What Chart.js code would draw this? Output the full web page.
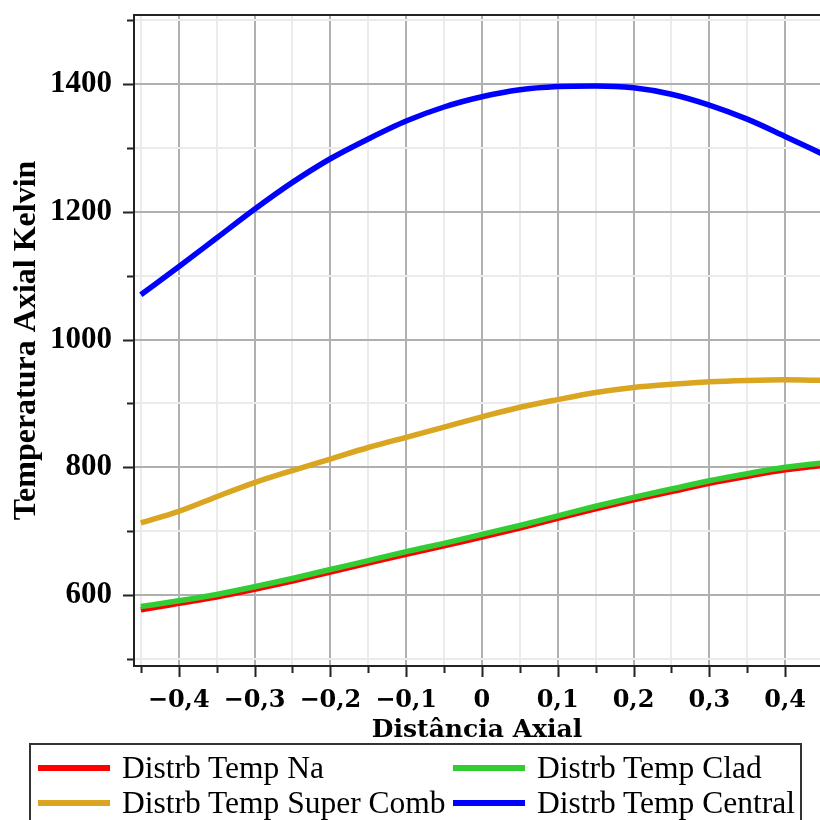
<!DOCTYPE html>
<html lang="pt">
<head>
<meta charset="utf-8">
<title>Distribuição de Temperatura Axial</title>
<script src="https://cdn.jsdelivr.net/npm/chart.js@4.4.1/dist/chart.umd.min.js"></script>
<style>
  html, body { margin:0; padding:0; background:#fff; }
  #wrap { position:relative; width:820px; height:820px; overflow:hidden; }
  #chart { position:absolute; left:0; top:0; }
  #legenda { position:absolute; left:29px; top:743px; width:769px; height:100px;
             border:2px solid #333; font-family:"Liberation Serif", serif; font-size:31.5px; color:#000; }
  .item { position:absolute; height:30px; line-height:30px; white-space:nowrap; }
  .item .amostra { position:absolute; left:0; top:12px; width:72px; height:6px; }
  .item span { position:absolute; left:84px; top:0; }
</style>
</head>
<body>
<div id="wrap">
  <canvas id="chart" width="820" height="820"></canvas>
  <div id="legenda"></div>
</div>
<script>
// ======= Dados =======
const DISTANCIA = [-0.45, -0.40, -0.35, -0.30, -0.25, -0.20, -0.15, -0.10, -0.05, 0,
                   0.05, 0.10, 0.15, 0.20, 0.25, 0.30, 0.35, 0.40, 0.45];

const TEMP_NA         = [577, 587, 597, 609, 622, 636, 650, 664, 677, 691, 705, 720, 735, 749, 762, 775, 786, 796, 803];
const TEMP_CLAD       = [582, 591, 601, 613, 626, 640, 654, 668, 681, 695, 709, 724, 739, 753, 766, 779, 790, 800, 807];
const TEMP_SUPER_COMB = [713, 731, 754, 776, 795, 813, 831, 847, 863, 879, 894, 906, 917, 925, 930, 934, 936, 937, 936];
const TEMP_CENTRAL    = [1070, 1114, 1159, 1204, 1246, 1283, 1314, 1342, 1364, 1380, 1391, 1396, 1397, 1394, 1384, 1367, 1345, 1318, 1290];

const NOMES  = ["Distrb Temp Na", "Distrb Temp Clad", "Distrb Temp Super Comb", "Distrb Temp Central"];
const CORES  = ["#ff0000", "#32cd32", "#daa520", "#0000ff"];

// ticks com rótulo (os outros são só marcas menores)
const X_MAJOR = [-0.4, -0.3, -0.2, -0.1, 0, 0.1, 0.2, 0.3, 0.4];
const Y_MAJOR = [600, 800, 1000, 1200, 1400];

const TITULO_X = "Distância Axial";
const TITULO_Y = "Temperatura Axial Kelvin";

// ======= Helpers =======
const isMajorX = v => X_MAJOR.some(m => Math.abs(m - v) < 1e-6);
const isMajorY = v => Y_MAJOR.some(m => Math.abs(m - v) < 1e-6);
function fmtX(v){
  if (Math.abs(v) < 1e-9) return "0";
  return (v < 0 ? "\u2212" : "") + Math.abs(v).toFixed(1).replace(".", ",");
}
const pts = arr => DISTANCIA.map((x,i) => ({ x, y: arr[i] }));

// marcas dos eixos para fora + moldura superior
const marcasEixos = {
  id: "marcasEixos",
  afterDraw(chart){
    const { ctx, chartArea: a, scales: { x, y } } = chart;
    ctx.save();
    ctx.strokeStyle = "#222";
    ctx.lineWidth = 2;
    ctx.beginPath();
    x.ticks.forEach(t => {
      const px = Math.round(x.getPixelForValue(t.value)) + 0.5;
      ctx.moveTo(px, a.bottom);
      ctx.lineTo(px, a.bottom + (isMajorX(t.value) ? 11 : 7));
    });
    y.ticks.forEach(t => {
      const py = Math.round(y.getPixelForValue(t.value)) + 0.5;
      ctx.moveTo(a.left, py);
      ctx.lineTo(a.left - (isMajorY(t.value) ? 11 : 7), py);
    });
    ctx.moveTo(a.left - 1, a.top);
    ctx.lineTo(a.right, a.top);
    ctx.stroke();
    ctx.restore();
  }
};

// ======= Chart =======
const ds = (idx, data) => ({
  label: NOMES[idx], data: pts(data),
  borderColor: CORES[idx], backgroundColor: CORES[idx],
  borderWidth: 5.5, pointRadius: 0, showLine: true, fill: false,
  cubicInterpolationMode: "monotone"
});

new Chart(document.getElementById("chart"), {
  type: "scatter",
  data: {
    // ordem: o primeiro fica por cima
    datasets: [ ds(3, TEMP_CENTRAL), ds(2, TEMP_SUPER_COMB), ds(1, TEMP_CLAD), ds(0, TEMP_NA) ]
  },
  options: {
    responsive: false,
    animation: false,
    layout: { padding: { top: 15, right: 0, bottom: 77, left: 0 } },
    plugins: { legend: { display: false }, tooltip: { enabled: false } },
    scales: {
      x: {
        type: "linear", min: -0.459, max: 0.446,
        afterFit(s){ s.height = 77; s.paddingLeft = 0; s.paddingRight = 0; },
        border: { display: true, color: "#222", width: 2 },
        grid: {
          drawTicks: false,
          color: c => isMajorX(c.tick.value) ? "#b0b0b0" : "#ebebeb",
          lineWidth: 2
        },
        ticks: {
          stepSize: 0.05, includeBounds: false, autoSkip: false, maxRotation: 0,
          padding: 23, color: "#000",
          font: { family: "'DejaVu Serif', serif", weight: "bold", size: 24, lineHeight: 1 },
          callback: v => isMajorX(v) ? fmtX(v) : ""
        },
        title: {
          display: true, text: TITULO_X, color: "#000",
          font: { family: "'DejaVu Serif', serif", weight: "bold", size: 25, lineHeight: 1 },
          padding: { top: 0, bottom: 0 }
        }
      },
      y: {
        type: "linear", min: 489, max: 1508,
        afterFit(s){ s.width = 134; s.paddingTop = 0; s.paddingBottom = 0; },
        border: { display: true, color: "#222", width: 2 },
        grid: {
          drawTicks: false,
          color: c => isMajorY(c.tick.value) ? "#b0b0b0" : "#ebebeb",
          lineWidth: 2
        },
        ticks: {
          stepSize: 100, includeBounds: false, autoSkip: false,
          padding: 22, color: "#000",
          font: { family: "'Liberation Serif', serif", weight: "bold", size: 31, lineHeight: 1 },
          callback: v => isMajorY(v) ? String(v) : ""
        },
        title: {
          display: true, text: TITULO_Y, color: "#000",
          font: { family: "'Liberation Serif', serif", weight: "bold", size: 32, lineHeight: 1 },
          padding: { top: 11, bottom: 0 }
        }
      }
    }
  },
  plugins: [marcasEixos]
});

// ======= Legenda (2 colunas, com moldura) =======
const LEG_POS = [ [7, 8], [422, 8], [7, 43], [422, 43] ]; // Na, Clad, Super Comb, Central
const leg = document.getElementById("legenda");
NOMES.forEach((nome, k) => {
  const it = document.createElement("div");
  it.className = "item";
  it.style.left = LEG_POS[k][0] + "px";
  it.style.top = LEG_POS[k][1] + "px";
  it.innerHTML = `<div class="amostra" style="background:${CORES[k]}"></div><span>${nome}</span>`;
  leg.appendChild(it);
});
</script>
</body>
</html>
